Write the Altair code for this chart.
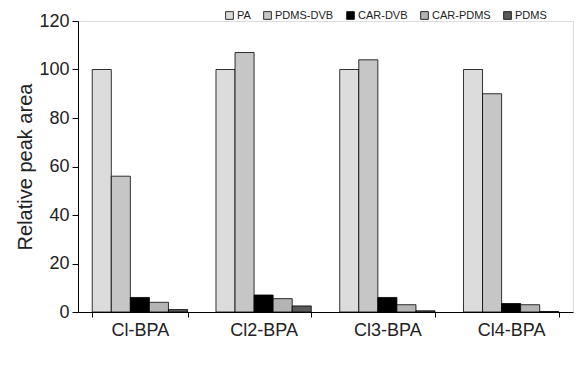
import altair as alt
import pandas as pd

compounds = ["Cl-BPA", "Cl2-BPA", "Cl3-BPA", "Cl4-BPA"]
fibers = ["PA", "PDMS-DVB", "CAR-DVB", "CAR-PDMS", "PDMS"]
pa = [100, 100, 100, 100]
pdms_dvb = [56, 107, 104, 90]
car_dvb = [6, 7, 6, 3.5]
car_pdms = [4, 5.5, 3, 3]
pdms = [1, 2.5, 0.5, 0.2]

series = [pa, pdms_dvb, car_dvb, car_pdms, pdms]
rows = []
for f, vals in zip(fibers, series):
    for c, v in zip(compounds, vals):
        rows.append({"compound": c, "fiber": f, "value": v})
df = pd.DataFrame(rows)

colors = ["#dcdcdc", "#c6c6c6", "#000000", "#b4b4b4", "#5a5a5a"]
font = "Liberation Sans"

chart = alt.Chart(df).mark_bar(stroke="#000000", strokeWidth=0.8).encode(
    x=alt.X("compound:N", sort=compounds, title=None,
            scale=alt.Scale(paddingInner=0.23, paddingOuter=0.115),
            axis=alt.Axis(labelAngle=0, labelFontSize=18, labelColor="#222222",
                          labelFont=font, ticks=True, tickBand="extent",
                          tickSize=5, tickColor="#000000",
                          domainColor="#000000", labelPadding=4)),
    xOffset=alt.XOffset("fiber:N", sort=fibers),
    y=alt.Y("value:Q", title="Relative peak area",
            scale=alt.Scale(domain=[0, 120]),
            axis=alt.Axis(values=[0, 20, 40, 60, 80, 100, 120], grid=False,
                          labelFontSize=18, labelColor="#222222",
                          labelFont=font, titleFont=font, labelPadding=3,
                          titleFontSize=20, titleFontWeight="normal",
                          titleColor="#222222", domainColor="#000000",
                          tickColor="#000000", tickSize=6, titlePadding=3)),
    color=alt.Color("fiber:N", sort=fibers, title=None,
                    scale=alt.Scale(domain=fibers, range=colors),
                    legend=alt.Legend(orient="none", legendX=146, legendY=-11,
                                      direction="horizontal", symbolType="square",
                                      symbolSize=60, symbolStrokeColor="#000000",
                                      symbolStrokeWidth=0.8,
                                      labelFontSize=11, labelFont=font,
                                      labelColor="#222222", columnPadding=11,
                                      labelOffset=2)),
).properties(
    width=495, height=291,
    autosize=alt.AutoSizeParams(type="none"),
    padding={"left": 70, "top": 13, "right": 2, "bottom": 40},
).configure_view(stroke=None).configure(background="white")

chart.save("out.html", embed_options={"renderer": "svg", "actions": False})
